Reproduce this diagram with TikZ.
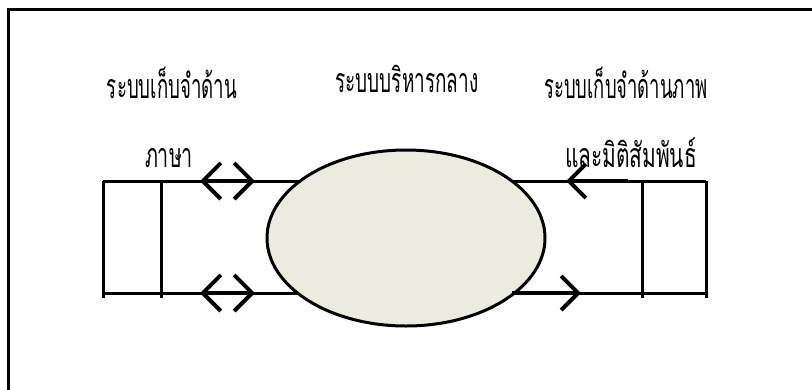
\documentclass[tikz,border=0pt]{standalone}
\usepackage{fontspec}
\usepackage{graphicx}
\usetikzlibrary{shapes.geometric,arrows.meta}
\newfontfamily\thaifont[Script=Thai]{Loma}
\definecolor{corefill}{RGB}{235,235,224}
\newcommand\fitw[2]{\resizebox{#1}{\height}{#2}}
\tikzset{
  frame/.style={line width=3pt},
  boxline/.style={line width=3pt},
  twoway/.style={line width=4pt,{Straight Barb[length=18pt,width=36pt]}-{Straight Barb[length=18pt,width=36pt]}},
  oneway/.style={line width=4pt,-{Straight Barb[length=17pt,width=34pt]}},
  label/.style={inner sep=0pt,anchor=base,font=\thaifont\fontsize{34}{36}\selectfont}
}
\begin{document}
\begin{tikzpicture}[x=1pt,y=-1pt]
\useasboundingbox (0,0) rectangle (812,389);
% frame (only top and left visible)
\coordinate (fA) at (8,400);
\coordinate (fB) at (8,9);
\coordinate (fC) at (820,9);
\draw[frame] (fA) -- (fB) -- (fC);
% central ellipse
\node[ellipse,draw,line width=3pt,fill=corefill,minimum width=278pt,minimum height=176pt,inner sep=0pt] (core) at (406,238) {};
% left box
\coordinate (l1) at (103,181);
\coordinate (l2) at (103,298);
\coordinate (l3) at (161,181);
\coordinate (l4) at (161,298);
\coordinate (lb) at (103,293);
\coordinate (lt) at (103,181);
\coordinate (le1) at (300,181);
\coordinate (le2) at (298,293);
\draw[boxline] (l1) -- (l2);
\draw[boxline] (l3) -- (l4);
\draw[boxline] (lt) -- (le1);
\draw[boxline] (lb) -- (le2);
% right box
\coordinate (r1) at (706,181);
\coordinate (r2) at (706,298);
\coordinate (r3) at (642,181);
\coordinate (r4) at (642,298);
\coordinate (re1) at (512,181);
\coordinate (re2) at (514,293);
\coordinate (rb) at (706,293);
\draw[boxline] (r1) -- (r2);
\draw[boxline] (r3) -- (r4);
\draw[boxline] (re1) -- (r1);
\draw[boxline] (re2) -- (rb);
% arrows
\coordinate (a1s) at (200,181);
\coordinate (a1e) at (255,181);
\coordinate (a2s) at (200,293);
\coordinate (a2e) at (255,293);
\draw[twoway] (a1s) -- (a1e);
\draw[twoway] (a2s) -- (a2e);
\coordinate (a3s) at (628,181);
\coordinate (a3e) at (566,181);
\draw[oneway] (a3s) -- (a3e);
\coordinate (a4s) at (512,293);
\coordinate (a4e) at (581,293);
\draw[oneway] (a4s) -- (a4e);
% labels
\node[label] (tL) at (172,98) {\fitw{130pt}{ระบบเก็บจำด้าน}};
\node[label] (tC) at (407,92) {\fitw{143pt}{ระบบบริหารกลาง}};
\node[label] (tR) at (626,98) {\fitw{163pt}{ระบบเก็บจำด้านภาพ}};
\node[label] (tL2) at (169,167) {\fitw{48pt}{ภาษา}};
\node[label] (tR2) at (631,167) {\fitw{132pt}{และมิติสัมพันธ์}};
\end{tikzpicture}
\end{document}
